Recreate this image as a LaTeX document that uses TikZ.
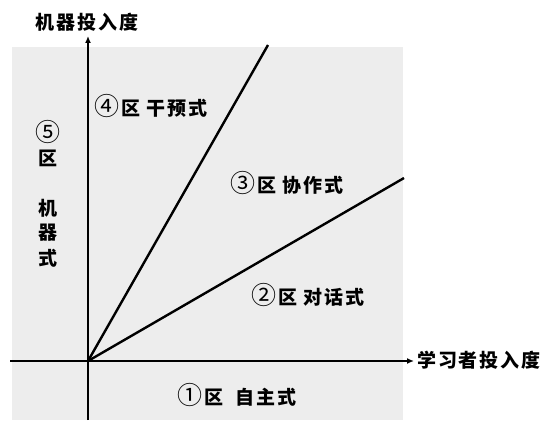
\documentclass[tikz,border=0pt]{standalone}
\usepackage{fontspec}
\newfontfamily\cjk{Noto Sans CJK SC}[LetterSpace=10]
\usetikzlibrary{arrows.meta}
\definecolor{zonegray}{HTML}{EDEDED}
\newcommand{\circnum}[1]{{\fontsize{25}{25}\selectfont\mdseries #1}\hspace{2pt}}
\begin{document}
\begin{tikzpicture}[x=1pt,y=-1pt,
  axis/.style={line width=2.6pt,-{Latex[length=7pt,width=6pt]}},
  ray/.style={line width=2.4pt},
  lab/.style={font=\cjk\bfseries\fontsize{19}{21}\selectfont,inner sep=0pt},
  vlab/.style={font=\cjk\bfseries\fontsize{19}{21}\selectfont,inner sep=0pt}]
\useasboundingbox (0,0) rectangle (545,420);
\fill[zonegray] (12,47) rectangle (403,420);
\coordinate (O) at (88,361);
\coordinate (ytop) at (88,36);
\coordinate (ybot) at (88,420);
\coordinate (xleft) at (10,361);
\coordinate (xright) at (414,361);
\coordinate (r1) at (268,45);
\coordinate (r2) at (404,178);
\draw[axis] (ybot) -- (ytop);
\draw[axis] (xleft) -- (xright);
\draw[ray] (O) -- (r1);
\draw[ray] (O) -- (r2);
\node[lab] (ylab) at (87,22) {机器投入度};
\node[lab,anchor=west] (xlab) at (417,360) {学习者投入度};
\node[lab] (z4) at (151,106) {\circnum{④}区 干预式};
\node[lab] (z3) at (287,183) {\circnum{③}区 协作式};
\node[lab] (z2) at (308,295) {\circnum{②}区 对话式};
\node[lab] (z1) at (237,395) {\circnum{①}区\hspace{6pt} 自主式};
\node[vlab] (z5a) at (48,132) {{\fontsize{25}{25}\selectfont\mdseries ⑤}};
\node[vlab] (z5b) at (48,158) {区};
\node[vlab] (z5c) at (48,208) {机};
\node[vlab] (z5d) at (48,233) {器};
\node[vlab] (z5e) at (48,258) {式};
\end{tikzpicture}
\end{document}
